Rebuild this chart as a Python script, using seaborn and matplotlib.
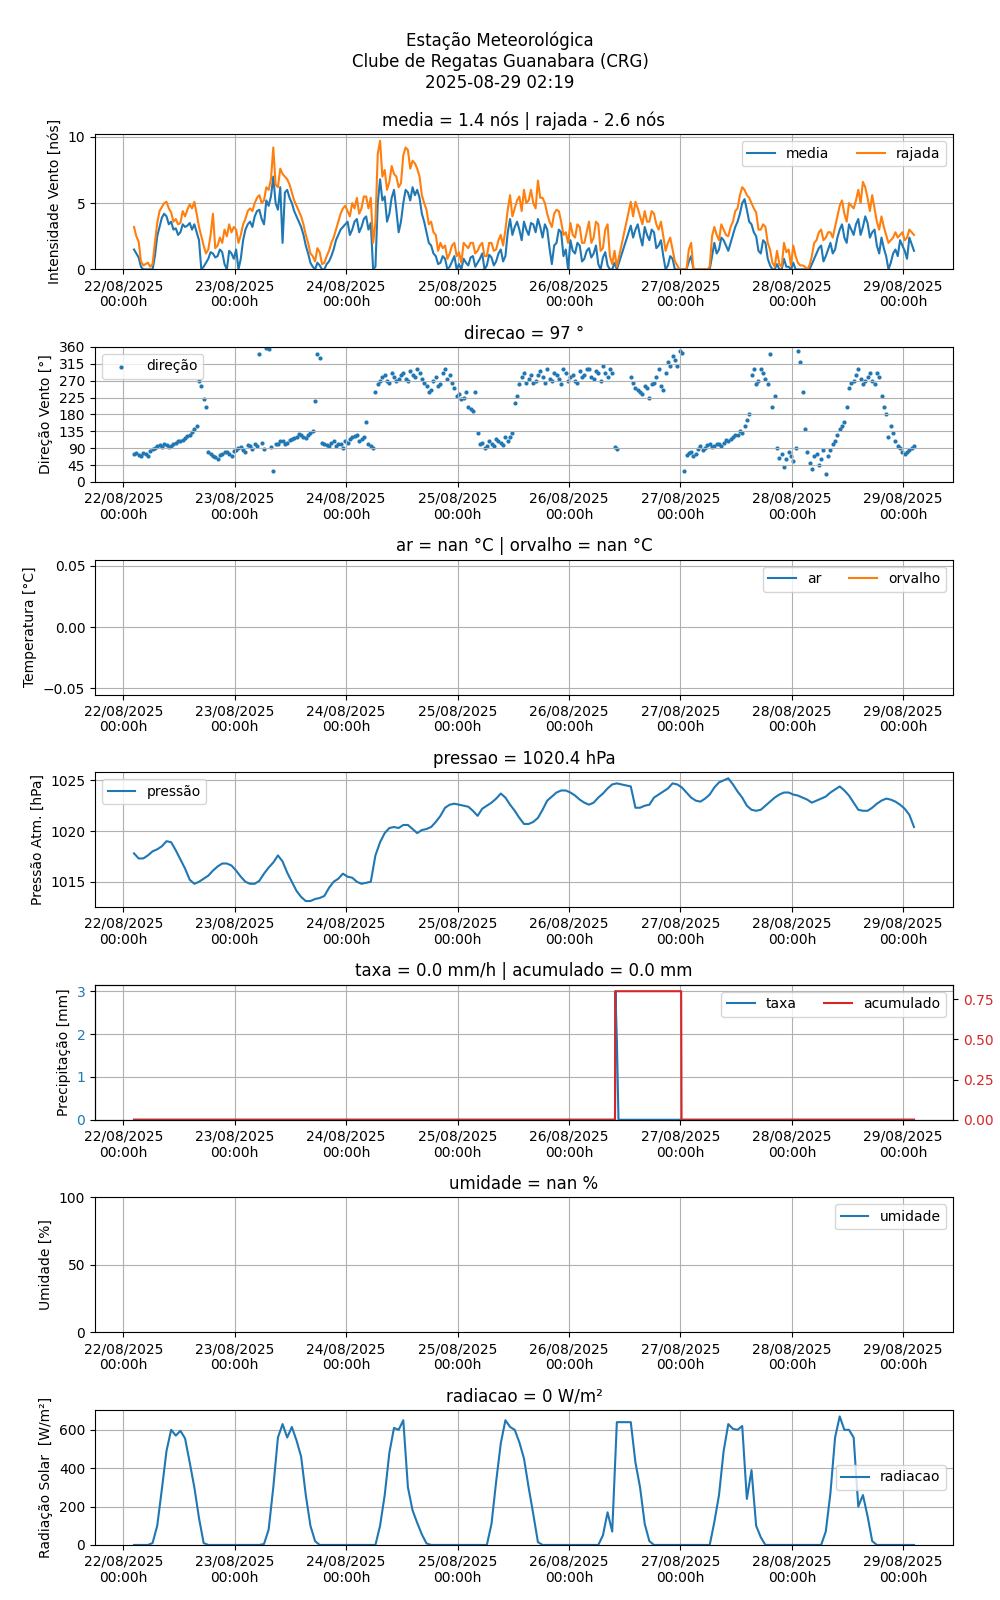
import numpy as np
import pandas as pd
import matplotlib
matplotlib.use("Agg")
import matplotlib.pyplot as plt
import matplotlib.dates as mdates
from matplotlib.ticker import MultipleLocator
import seaborn as sns

# ---------------- DATA ----------------
start_time = "2025-08-22 02:19"
n_hours = 169                 # hourly samples 22/08 02:19 .. 29/08 02:19
gap_hours = [105, 106]        # hourly samples missing (26/08 ~11:19 and 12:19)
n_half = 168                  # half-hour samples 22/08 02:49 .. 29/08 01:49
gap_half = [104, 105, 106]    # half-hour samples missing

media = [
    1.5, 0.9, 0, 0, 0, 2.5, 3.9, 4.0, 3.6, 3.1, 2.8, 3.2, 3.5, 3.4, 2.2, 0.2, 0.8, 1.2, 1.0, 1.3, 0.0, 1.2,
    1.5, 0.8, 3.0, 3.6, 4.0, 4.5, 3.4, 4.8, 7.0, 4.5, 2.0, 6.0, 5.0, 4.0, 3.2, 1.8, 0.5, 0.0, 0.3, 0.0, 0.6, 1.5, 2.6, 3.2,
    3.6, 3.0, 3.8, 3.2, 4.0, 3.5, 0.2, 6.8, 5.5, 4.2, 6.0, 2.8, 5.0, 5.8, 6.2, 6.0, 4.2, 2.8, 1.8, 1.0, 0.5, 0.8, 0.2, 1.0,
    0.4, 0.8, 0.3, 1.0, 0.5, 1.2, 0.3, 0.9, 0.6, 1.5, 1.0, 3.8, 3.2, 3.0, 3.6, 2.6, 3.4, 3.8, 2.4, 3.0, 0.4, 2.0, 2.8, 1.5,
    2.2, 1.2, 1.8, 0.8, 1.6, 1.2, 0.4, 0.9, 0.3, 0.0, 0.0,
    3.3, 3.0, 2.5, 3.2, 2.2, 2.8, 1.8, 1.0, 0.3, 0.8, 0.0,
    0, 0, 1.0, 0, 0, 0, 0, 2.0, 1.5, 2.2, 1.4, 2.6, 3.6, 5.0, 4.5, 3.4, 2.5, 1.2, 2.0, 0.3, 0, 0, 0.8, 0.2,
    0.5, 0, 0, 0, 0.4, 1.2, 1.8, 1.0, 2.0, 1.5, 3.0, 2.4, 3.4, 2.6, 3.8, 3.2, 3.5, 2.8, 1.8, 2.4, 1.0, 0.5, 1.5, 2.2,
    1.4, 2.4, 1.4,
]
media_meia = [
    1.2, 0.2, 0, 0, 1.0, 3.2, 4.2, 3.4, 3.0, 2.6, 3.4, 3.3, 3.0, 2.8, 0.0, 0.5, 1.3, 0.9, 1.5, 0.4, 1.4, 0.8,
    0.0, 2.2, 3.4, 3.2, 4.4, 3.8, 5.2, 5.5, 5.0, 6.2, 5.8, 5.4, 4.4, 3.6, 2.6, 1.2, 0.2, 0.5, 0.0, 0.4, 1.0, 2.2, 3.0, 3.4,
    2.6, 3.6, 2.8, 3.8, 3.0, 0.0, 5.0, 5.2, 3.6, 5.4, 4.5, 3.6, 6.0, 5.2, 5.6, 5.4, 3.6, 2.0, 1.2, 0.4, 1.0, 0.0, 0.6, 0.0,
    0.0, 0.5, 0.9, 0.2, 0.8, 0.0, 1.1, 0.3, 1.2, 0.6, 2.8, 2.6, 3.6, 2.2, 3.0, 3.5, 2.8, 3.2, 3.4, 1.6, 1.8, 3.0, 1.0, 0.0,
    1.4, 2.0, 0.6, 1.4, 0.9, 1.8, 0.0, 1.3, 0.0, 0.5,
    2.4, 3.4, 1.8, 2.6, 3.0, 1.6, 2.2, 0.0, 1.0, 0.0, 0.0,
    0, 0.6, 0, 0, 0, 0, 1.0, 1.2, 2.4, 1.8, 2.0, 3.2, 4.2, 5.3, 3.6, 2.8, 1.4, 2.2, 0.8, 0.0, 0.4, 0.0, 0.2, 0.0,
    0, 0, 0, 0, 0.8, 1.6, 0.6, 1.5, 1.2, 2.4, 3.4, 2.0, 3.0, 3.4, 2.6, 4.0, 2.4, 3.0, 1.2, 1.6, 0.0, 1.2, 1.0, 1.8,
    0.8, 1.9,
]
rajada = [
    3.2, 2.1, 0.3, 0.5, 0.4, 3.5, 4.7, 5.1, 4.3, 3.8, 3.5, 4.0, 4.9, 5.1, 3.2, 1.8, 1.5, 4.2, 1.8, 2.0, 2.5, 2.8,
    3.0, 2.6, 3.8, 4.6, 5.0, 5.6, 5.2, 6.0, 9.2, 6.2, 7.2, 6.8, 5.8, 4.8, 4.0, 2.6, 1.2, 0.6, 1.3, 0.5, 1.4, 2.4, 3.6, 4.6,
    4.4, 5.0, 5.4, 4.6, 5.5, 5.4, 3.5, 9.7, 7.5, 6.6, 7.2, 6.2, 8.6, 9.0, 8.2, 7.6, 5.6, 4.5, 3.6, 2.6, 2.0, 1.8, 1.2, 2.0,
    1.3, 2.0, 1.6, 2.0, 1.4, 2.0, 1.0, 2.0, 1.5, 2.6, 3.0, 5.6, 4.6, 5.5, 6.0, 5.2, 5.0, 6.7, 5.4, 4.2, 3.2, 4.5, 3.6, 2.8,
    3.5, 2.4, 3.2, 2.0, 3.6, 2.4, 3.4, 1.6, 3.4, 0.4, 0.2,
    5.1, 5.1, 4.0, 4.4, 3.6, 4.2, 3.0, 2.5, 2.0, 1.5, 0.3,
    0, 0, 2.0, 0, 0, 0, 0.2, 3.2, 2.2, 3.0, 2.5, 3.6, 4.6, 6.2, 5.6, 5.0, 4.3, 3.0, 3.2, 1.5, 0.2, 0.4, 2.0, 1.5,
    1.8, 0.5, 0.3, 0, 1.0, 2.2, 3.0, 2.4, 2.8, 3.2, 4.8, 4.2, 5.0, 4.6, 6.0, 6.6, 5.4, 5.6, 3.6, 4.0, 2.6, 2.2, 2.8, 2.6,
    2.2, 3.0, 2.6,
]
rajada_meia = [
    2.5, 0.6, 0.4, 0.2, 2.0, 4.4, 5.0, 4.6, 3.6, 3.4, 4.4, 4.5, 4.6, 4.2, 2.5, 1.2, 2.6, 1.6, 2.4, 3.0, 3.4, 3.2,
    2.0, 3.4, 4.4, 4.4, 5.4, 5.0, 6.2, 6.8, 6.4, 7.6, 7.0, 6.4, 5.2, 4.4, 3.4, 2.0, 1.0, 1.6, 0.4, 1.0, 2.0, 3.0, 4.2, 4.8,
    4.0, 4.6, 4.2, 5.5, 4.6, 2.0, 8.7, 7.0, 6.0, 7.8, 7.0, 6.5, 9.2, 7.6, 8.0, 7.0, 5.0, 3.4, 2.8, 1.4, 1.6, 0.8, 1.8, 1.0,
    0.5, 1.8, 2.0, 1.2, 1.8, 1.0, 2.0, 1.4, 2.2, 1.8, 4.5, 4.0, 5.2, 4.4, 5.0, 6.0, 4.6, 5.4, 5.0, 3.6, 4.2, 4.4, 2.6, 2.0,
    2.6, 3.4, 2.0, 2.8, 2.0, 3.6, 1.4, 3.0, 1.0, 1.4,
    4.0, 4.6, 3.4, 3.6, 4.4, 3.4, 3.6, 1.4, 2.4, 0.6, 0.0,
    0, 1.5, 0, 0, 0, 0, 2.5, 2.6, 3.4, 2.6, 3.2, 4.4, 5.6, 6.0, 5.4, 4.6, 3.0, 3.4, 2.0, 0.5, 1.4, 0.2, 1.3, 0.3,
    1.0, 0.3, 0.2, 0.3, 2.0, 2.8, 2.2, 2.8, 2.4, 4.0, 5.2, 3.6, 4.8, 5.2, 5.0, 6.2, 4.4, 4.6, 3.0, 3.2, 2.0, 2.4, 2.4, 2.8,
    2.4, 2.8,
]
direcao = [
    75, 72, 78, 70, 88, 95, 92, 98, 96, 105, 110, 118, 125, 140, 270, 220, 80, 70, 62, 75, 80, 68,
    85, 92, 80, 95, 100, 340, 88, 355, 30, 100, 110, 105, 115, 120, 125, 118, 130, 215, 330, 100, 95, 110, 100, 90,
    105, 120, 125, 115, 160, 95, 240, 270, 285, 265, 280, 275, 290, 270, 285, 300, 275, 255, 245, 280, 260, 300, 285, 250,
    235, 225, 200, 190, 130, 105, 95, 100, 115, 105, 120, 120, 210, 260, 290, 275, 265, 285, 280, 300, 270, 285, 260, 290,
    280, 270, 295, 285, 300, 275, 290, 310, 280, 290, 88,
    280, 250, 240, 255, 225, 265, 300, 245, 320, 335, 310,
    345, 72, 80, 75, 95, 90, 100, 95, 100, 105, 110, 120, 125, 130, 165, 285, 260, 300, 275, 340, 230, 65, 40, 80,
    55, 350, 240, 80, 35, 75, 60, 20, 85, 110, 140, 160, 250, 270, 300, 260, 280, 270, 290, 230, 180, 150, 110, 90,
    75, 85, 97,
]
direcao_meia = [
    78, 70, 74, 82, 90, 98, 100, 92, 102, 108, 112, 122, 132, 150, 255, 200, 75, 66, 72, 80, 74, 82,
    90, 85, 98, 88, 95, 105, 358, 92, 100, 108, 102, 112, 118, 128, 120, 125, 135, 340, 105, 98, 105, 95, 102, 110,
    115, 122, 110, 120, 100, 90, 260, 280, 270, 290, 270, 285, 275, 295, 280, 290, 265, 240, 270, 255, 290, 275, 265, 230,
    220, 240, 195, 240, 100, 90, 110, 95, 108, 98, 110, 130, 230, 280, 265, 285, 270, 295, 265, 275, 290, 275, 300, 270,
    285, 265, 280, 300, 280, 295, 270, 290, 300, 92,
    265, 245, 235, 250, 260, 280, 255, 290, 310, 325, 350,
    30, 78, 70, 88, 85, 98, 92, 102, 96, 112, 115, 125, 135, 150, 180, 300, 270, 290, 260, 200, 90, 75, 60, 70,
    90, 320, 140, 50, 70, 45, 85, 70, 100, 125, 150, 200, 265, 285, 275, 270, 290, 260, 280, 200, 120, 130, 95, 80,
    80, 90,
]
pressao = [
    1017.8, 1017.3, 1017.3, 1017.6, 1018.0, 1018.2, 1018.5, 1019.0, 1018.9, 1018.1, 1017.2, 1016.3, 1015.2, 1014.8,
    1015.0, 1015.3, 1015.6, 1016.1, 1016.5, 1016.8, 1016.8, 1016.6,
    1016.1, 1015.5, 1015.0, 1014.8, 1014.8, 1015.1, 1015.8, 1016.4, 1016.9, 1017.6, 1017.0, 1015.9, 1015.0, 1014.1,
    1013.5, 1013.1, 1013.1, 1013.3, 1013.4, 1013.6, 1014.4, 1015.0, 1015.3, 1015.8,
    1015.5, 1015.4, 1015.0, 1014.8, 1014.9, 1015.0, 1017.6, 1018.9, 1019.8, 1020.3, 1020.4, 1020.3, 1020.6, 1020.6,
    1020.2, 1019.8, 1020.1, 1020.2, 1020.4, 1020.9, 1021.5, 1022.3, 1022.6, 1022.7,
    1022.6, 1022.5, 1022.4, 1022.0, 1021.5, 1022.2, 1022.5, 1022.8, 1023.2, 1023.7, 1023.3, 1022.6, 1022.0, 1021.3,
    1020.7, 1020.7, 1020.9, 1021.3, 1022.1, 1023.0, 1023.4, 1023.8, 1024.0, 1024.0,
    1023.8, 1023.5, 1023.1, 1022.8, 1022.6, 1022.8, 1023.3, 1023.7, 1024.2, 1024.6, 1024.7,
    1024.4, 1022.3, 1022.3, 1022.5, 1022.6, 1023.3, 1023.6, 1023.9, 1024.2, 1024.7, 1024.6,
    1024.3, 1023.8, 1023.3, 1023.0, 1022.9, 1023.2, 1023.6, 1024.3, 1024.8, 1025.0, 1025.2, 1024.6, 1023.9, 1023.3,
    1022.5, 1022.1, 1022.0, 1022.1, 1022.5, 1022.9, 1023.3, 1023.6, 1023.8, 1023.8,
    1023.6, 1023.5, 1023.3, 1023.1, 1022.8, 1023.0, 1023.2, 1023.4, 1023.8, 1024.1, 1024.4, 1024.0, 1023.5, 1022.8,
    1022.1, 1022.0, 1022.0, 1022.3, 1022.7, 1023.0, 1023.2, 1023.1, 1022.9, 1022.6,
    1022.2, 1021.6, 1020.4,
]
radiacao = [
    0, 0, 0, 0, 10, 100, 290, 490, 600, 570, 595, 555, 430, 300, 140, 10, 0, 0, 0, 0, 0, 0,
    0, 0, 0, 0, 0, 0, 5, 80, 300, 560, 630, 560, 615, 545, 460, 260, 100, 20, 0, 0, 0, 0, 0, 0,
    0, 0, 0, 0, 0, 0, 0, 100, 260, 480, 610, 600, 650, 300, 180, 115, 55, 8, 0, 0, 0, 0, 0, 0,
    0, 0, 0, 0, 0, 0, 0, 110, 330, 530, 650, 615, 600, 535, 450, 300, 160, 15, 0, 0, 0, 0, 0, 0,
    0, 0, 0, 0, 0, 0, 0, 50, 170, 70, 640,
    640, 430, 300, 110, 20, 0, 0, 0, 0, 0, 0,
    0, 0, 0, 0, 0, 0, 0, 120, 260, 490, 630, 605, 600, 620, 240, 390, 100, 40, 0, 0, 0, 0, 0, 0,
    0, 0, 0, 0, 0, 0, 0, 70, 270, 560, 670, 600, 600, 560, 200, 260, 150, 20, 0, 0, 0, 0, 0, 0,
    0, 0, 0,
]
# temperature and humidity: no valid readings
ar = [np.nan, np.nan]
orvalho = [np.nan, np.nan]
umidade = [np.nan, np.nan]
sem_dados_time = ["2025-08-22 02:19", "2025-08-29 02:19"]

# precipitation (change points)
precip_time = ["2025-08-22 02:19", "2025-08-26 09:55", "2025-08-26 10:00", "2025-08-26 10:20",
               "2025-08-26 10:40", "2025-08-27 00:10", "2025-08-27 00:15", "2025-08-29 02:19"]
taxa = [0, 0, 3.0, 1.8, 0, 0, 0, 0]
acumulado = [0, 0, 0.8, 0.8, 0.8, 0.8, 0, 0]

fig_title = "Estação Meteorológica\nClube de Regatas Guanabara (CRG)\n2025-08-29 02:19"

# ---------------- BUILD ----------------
t0 = pd.Timestamp(start_time)
hours = [h for h in range(n_hours) if h not in gap_hours]
halves = [h + 0.5 for h in range(n_half) if h not in gap_half]
times = t0 + pd.to_timedelta(hours, unit="h")
times_half = t0 + pd.to_timedelta(halves, unit="h")

df = pd.DataFrame({"time": times, "pressao": pressao, "radiacao": radiacao})
dfw = pd.concat([
    pd.DataFrame({"time": times, "media": media, "rajada": rajada, "direcao": direcao}),
    pd.DataFrame({"time": times_half, "media": media_meia, "rajada": rajada_meia, "direcao": direcao_meia}),
]).sort_values("time").reset_index(drop=True)
dfp = pd.DataFrame({"time": pd.to_datetime(precip_time), "taxa": taxa, "acumulado": acumulado})
t_nan = pd.to_datetime(sem_dados_time)

plt.rcParams["font.family"] = ["DejaVu Sans"]
fig, axes = plt.subplots(7, 1, figsize=(10, 16), dpi=100, sharex=True)
fig.subplots_adjust(left=0.095, right=0.953, top=0.916, bottom=0.0344, hspace=0.575)
fig.suptitle(fig_title, fontsize=12, y=0.98)

blue, orange, red = "tab:blue", "tab:orange", "tab:red"

# 1 wind
ax = axes[0]
sns.lineplot(data=dfw, x="time", y="media", ax=ax, color=blue, label="media", lw=1.5)
sns.lineplot(data=dfw, x="time", y="rajada", ax=ax, color=orange, label="rajada", lw=1.5)
ax.set_ylim(bottom=0)
ax.yaxis.set_major_locator(MultipleLocator(5))
ax.set_ylabel("Intensidade Vento [nós]")
ax.set_title(f"media = {media[-1]:.1f} nós | rajada - {rajada[-1]:.1f} nós")
ax.legend(loc="upper right", ncol=2)

# 2 direction
ax = axes[1]
sns.scatterplot(data=dfw, x="time", y="direcao", ax=ax, color=blue, s=9, linewidth=0, label="direção")
ax.set_ylim(0, 360)
ax.set_yticks(range(0, 361, 45))
ax.set_ylabel("Direção Vento [°]")
ax.set_title(f"direcao = {direcao[-1]:.0f} °")
ax.legend(loc="upper left")

# 3 temperature
ax = axes[2]
ax.plot(t_nan, ar, color=blue, label="ar")
ax.plot(t_nan, orvalho, color=orange, label="orvalho")
ax.set_ylim(-0.055, 0.055)
ax.set_yticks([-0.05, 0.0, 0.05])
ax.set_ylabel("Temperatura [°C]")
ax.set_title("ar = nan °C | orvalho = nan °C")
ax.legend(loc="upper right", ncol=2)

# 4 pressure
ax = axes[3]
sns.lineplot(data=df, x="time", y="pressao", ax=ax, color=blue, label="pressão", lw=1.5)
ax.yaxis.set_major_locator(MultipleLocator(5))
ax.set_ylabel("Pressão Atm. [hPa]")
ax.set_title(f"pressao = {pressao[-1]:.1f} hPa")
ax.legend(loc="upper left")

# 5 precipitation
ax = axes[4]
sns.lineplot(data=dfp, x="time", y="taxa", ax=ax, color=blue, label="taxa", lw=1.5, legend=False)
ax.set_ylim(bottom=0)
ax.yaxis.set_major_locator(MultipleLocator(1))
ax.tick_params(axis="y", labelcolor=blue)
ax.set_ylabel("Precipitação [mm]")
ax2 = ax.twinx()
sns.lineplot(data=dfp, x="time", y="acumulado", ax=ax2, color=red, label="acumulado", lw=1.5, legend=False)
ax2.set_ylim(bottom=0)
ax2.yaxis.set_major_locator(MultipleLocator(0.25))
ax2.tick_params(axis="y", labelcolor=red)
ax2.set_ylabel("")
ax.set_title(f"taxa = {taxa[-1]:.1f} mm/h | acumulado = {acumulado[-1]:.1f} mm")
h1, l1 = ax.get_legend_handles_labels()
h2, l2 = ax2.get_legend_handles_labels()
ax2.legend(h1 + h2, l1 + l2, loc="upper right", ncol=2)

# 6 humidity
ax = axes[5]
ax.plot(t_nan, umidade, color=blue, label="umidade")
ax.set_ylim(0, 100)
ax.set_yticks([0, 50, 100])
ax.set_ylabel("Umidade [%]")
ax.set_title("umidade = nan %")
ax.legend(loc="upper right")

# 7 radiation
ax = axes[6]
sns.lineplot(data=df, x="time", y="radiacao", ax=ax, color=blue, label="radiacao", lw=1.5)
ax.set_ylim(bottom=0)
ax.yaxis.set_major_locator(MultipleLocator(200))
ax.set_ylabel("Radiação Solar  [W/m²]")
ax.set_title(f"radiacao = {radiacao[-1]:.0f} W/m²")
ax.legend(loc="center right")

for ax in axes:
    ax.grid(True)
    ax.set_xlabel("")
    ax.xaxis.set_major_locator(mdates.DayLocator())
    ax.xaxis.set_major_formatter(mdates.DateFormatter("%d/%m/%Y\n%H:%Mh"))
    ax.tick_params(axis="x", labelbottom=True)

fig.savefig("out.png", dpi=100)
